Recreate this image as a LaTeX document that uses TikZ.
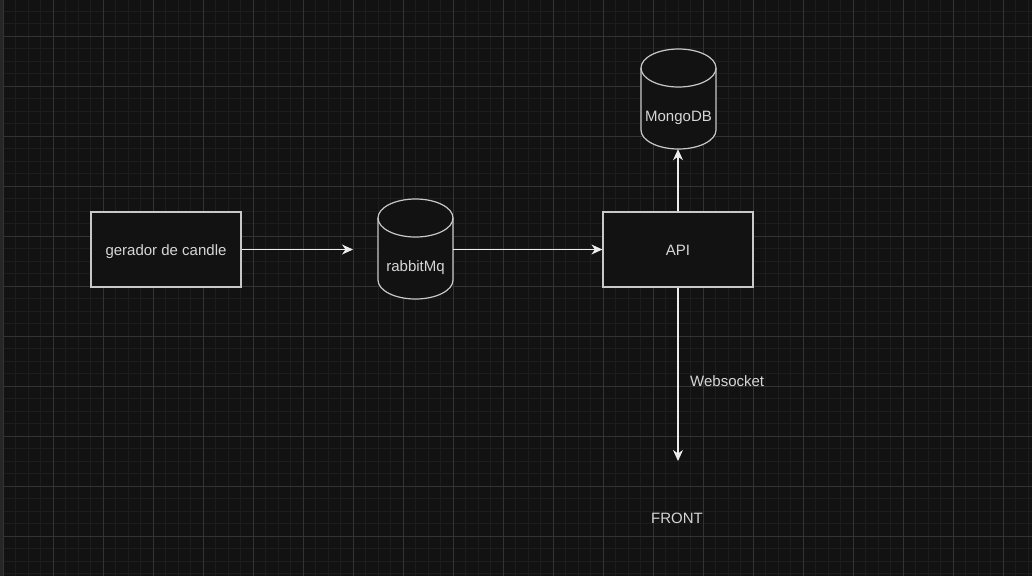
\documentclass[tikz,border=0pt]{standalone}
\usepackage{fontspec}
\setmainfont{Liberation Sans}
\usetikzlibrary{arrows.meta,calc}
\definecolor{bgc}{HTML}{121212}
\definecolor{minorc}{HTML}{1D1D1D}
\definecolor{majorc}{HTML}{333333}
\definecolor{stripc}{HTML}{262626}
\definecolor{strokec}{HTML}{C8C8C8}
\definecolor{arrowc}{HTML}{EDEDED}
\definecolor{textc}{HTML}{D6D6D6}
\tikzset{
  minorline/.style={draw=minorc, line width=0.8pt},
  majorline/.style={draw=majorc, line width=0.9pt},
  boxnode/.style={draw=strokec, fill=bgc, line width=1.2pt, minimum width=150pt, minimum height=75pt, inner sep=0pt, font=\fontsize{15}{18}\selectfont, text=textc, text height=11pt, text depth=0pt},
  cylnode/.style={minimum width=75pt, minimum height=100pt, inner sep=0pt},
  cylline/.style={draw=strokec, fill=bgc, line width=1.2pt},
  txt/.style={font=\fontsize{15}{18}\selectfont, text=textc, inner sep=0pt, text height=11pt, text depth=0pt},
  conn/.style={draw=arrowc, line width=1.2pt, -{Stealth[length=11pt,width=10pt,inset=3.5pt]}}
}
\begin{document}
\begin{tikzpicture}[x=1pt,y=-1pt]
\useasboundingbox (0,0) rectangle (1032,576);
\fill[bgc] (0,0) rectangle (1032,576);
% grid
\foreach \k in {0,...,82} {
  \pgfmathsetmacro\xx{3+12.5*\k}
  \draw[minorline] (\xx,0) -- (\xx,576);
}
\foreach \k in {-2,...,43} {
  \pgfmathsetmacro\yy{36+12.5*\k}
  \draw[minorline] (3,\yy) -- (1032,\yy);
}
\foreach \k in {0,...,20} {
  \pgfmathsetmacro\xx{3+50*\k}
  \draw[majorline] (\xx,0) -- (\xx,576);
}
\foreach \k in {0,...,10} {
  \pgfmathsetmacro\yy{36+50*\k}
  \draw[majorline] (3,\yy) -- (1032,\yy);
}
\fill[stripc] (0,0) rectangle (3,576);

% boxes
\node[boxnode] (gen) at (166,249.5) {gerador de candle};
\node[boxnode] (api) at (678,249.5) {API};

% rabbitMq cylinder
\node[cylnode] (rabbit) at (415.5,249) {};
\path[cylline] (378,218) arc[start angle=180,end angle=0,x radius=37.5pt,y radius=19pt]
  -- (453,280) arc[start angle=0,end angle=-180,x radius=37.5pt,y radius=19pt] -- cycle;
\draw[cylline, fill=none] (378,218) arc[start angle=180,end angle=360,x radius=37.5pt,y radius=19pt];
\node[txt] at ([yshift=-17pt]rabbit.center) {rabbitMq};

% MongoDB cylinder
\node[cylnode] (mongo) at (678.5,99) {};
\path[cylline] (641,68) arc[start angle=180,end angle=0,x radius=37.5pt,y radius=19pt]
  -- (716,130) arc[start angle=0,end angle=-180,x radius=37.5pt,y radius=19pt] -- cycle;
\draw[cylline, fill=none] (641,68) arc[start angle=180,end angle=360,x radius=37.5pt,y radius=19pt];
\node[txt] at ([yshift=-17pt]mongo.center) {MongoDB};

% free ends and labels
\coordinate (genend) at (353,249.5);
\coordinate (frontend) at (678,461);
\node[txt] (front) at (677,517.5) {FRONT};
\node[txt, anchor=west] (ws) at (690,381) {Websocket};

% connectors
\draw[conn] (gen.east) -- (genend);
\draw[conn] (rabbit.east |- api.west) -- (api.west);
\draw[conn] (api.north) -- (api.north |- mongo.south);
\draw[conn] (api.south) -- (frontend);
\end{tikzpicture}
\end{document}
